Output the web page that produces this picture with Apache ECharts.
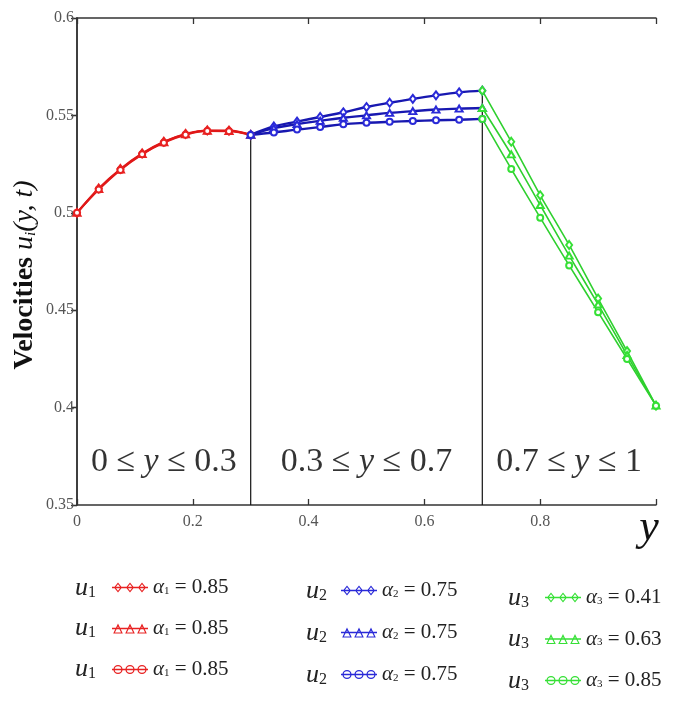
<!DOCTYPE html>
<html><head><meta charset="utf-8">
<script src="https://cdn.jsdelivr.net/npm/echarts@6/dist/echarts.min.js"></script>
<style>html,body{margin:0;padding:0;background:#fff}#c{width:685px;height:704px}</style>
</head><body><div id="c"></div>
<script>
// ---- data ----
const regions = [[0, 0.3], [0.3, 0.7], [0.7, 1]];
const regionText = [['0 ≤ ', ' ≤ 0.3'], ['0.3 ≤ ', ' ≤ 0.7'], ['0.7 ≤ ', ' ≤ 1']];

const x1 = [0, 0.0375, 0.075, 0.1125, 0.15, 0.1875, 0.225, 0.2625, 0.3];
const u1a = [0.5, 0.5125, 0.5225, 0.5305, 0.5365, 0.5405, 0.5423, 0.5422, 0.540];
const u1b = [0.5, 0.5122, 0.5222, 0.5302, 0.5362, 0.5403, 0.5421, 0.5420, 0.540];
const u1c = [0.5, 0.5119, 0.5220, 0.5300, 0.5360, 0.5401, 0.5420, 0.5419, 0.540];

const x2 = [0.30, 0.34, 0.38, 0.42, 0.46, 0.50, 0.54, 0.58, 0.62, 0.66, 0.70];
const u2a = [0.540, 0.5443, 0.5468, 0.5492, 0.5516, 0.5543, 0.5565, 0.5585, 0.5603, 0.5618, 0.5627];
const u2b = [0.540, 0.5435, 0.5455, 0.5472, 0.5488, 0.5500, 0.5513, 0.5522, 0.5530, 0.5535, 0.5538];
const u2c = [0.540, 0.5412, 0.5427, 0.5440, 0.5455, 0.5462, 0.5467, 0.5471, 0.5475, 0.5478, 0.5482];

const x3 = [0.70, 0.75, 0.80, 0.85, 0.90, 0.95, 1.0];
const u3a = [0.5627, 0.5365, 0.5090, 0.4835, 0.4560, 0.4290, 0.4010];
const u3b = [0.5538, 0.5300, 0.5040, 0.4780, 0.4530, 0.4270, 0.4010];
const u3c = [0.5482, 0.5225, 0.4975, 0.4730, 0.4490, 0.4250, 0.4010];

const alphas = [[0.85, 0.85, 0.85], [0.75, 0.75, 0.75], [0.41, 0.63, 0.85]];
const xTickLabels = ['0', '0.2', '0.4', '0.6', '0.8'];

// ---- build ----
const groups = [
  {x: x1, ys: [u1a, u1b, u1c], color: '#e82222', line: '#e01818', w: 2},
  {x: x2, ys: [u2a, u2b, u2c], color: '#2a2ad8', line: '#1818b0', w: 2.4},
  {x: x3, ys: [u3a, u3b, u3c], color: '#36e036', line: '#2fd02f', w: 1.6}
];
const symbols = ['emptyDiamond', 'emptyTriangle', 'emptyCircle'];
const symSizes = [[6, 8], [7, 6], [6, 6]];

function ringIcon(kind) {
  let p = 'M0 5.2 L36 5.2 L36 6.8 L0 6.8 Z ';
  [6, 18, 30].forEach(c => {
    if (kind === 0) {
      p += `M${c} 1 L${c + 4} 6 L${c} 11 L${c - 4} 6 Z M${c} 2.7 L${c - 2.6} 6 L${c} 9.3 L${c + 2.6} 6 Z `;
    } else if (kind === 1) {
      p += `M${c} 1 L${c + 4.8} 11 L${c - 4.8} 11 Z M${c} 3.9 L${c - 3.1} 9.9 L${c + 3.1} 9.9 Z `;
    } else {
      p += `M${c - 4.6} 6 A4.6 4.6 0 1 1 ${c + 4.6} 6 A4.6 4.6 0 1 1 ${c - 4.6} 6 Z M${c - 3.3} 6 A3.3 3.3 0 1 0 ${c + 3.3} 6 A3.3 3.3 0 1 0 ${c - 3.3} 6 Z `;
    }
  });
  return 'path://' + p;
}

const series = [];
const legendData = [[], [], []];
const legendText = {};
groups.forEach((g, gi) => {
  g.ys.forEach((ys, k) => {
    const name = 'u' + (gi + 1) + '_' + (k + 1);
    series.push({
      name, type: 'line', smooth: gi < 2 ? 0.4 : 0.2,
      data: g.x.map((xv, i) => [xv, ys[i]]),
      symbol: symbols[k], symbolSize: symSizes[k], showSymbol: true,
      lineStyle: {color: g.line, width: g.w},
      itemStyle: {color: g.color, borderWidth: 1},
      z: 3, animation: false
    });
    legendData[gi].push({name, icon: ringIcon(k)});
    legendText[name] = '{a|α}{s|' + (gi + 1) + '}{t| = ' + alphas[gi][k].toFixed(2) + '}';
  });
});

// vertical separators from region boundaries up to curve values
const sepTops = [u1a[u1a.length - 1], u2a[u2a.length - 1]];
[regions[0][1], regions[1][1]].forEach((bx, i) => {
  series.push({
    type: 'line', silent: true, symbol: 'none', z: 2, animation: false,
    data: [[bx, 0.35], [bx, sepTops[i]]],
    lineStyle: {color: '#111', width: 1.2}
  });
});

// region labels
series.push({
  type: 'scatter', symbolSize: 0, silent: true, animation: false,
  data: regions.map(r => [(r[0] + r[1]) / 2, 0.372]),
  label: {
    show: true, position: 'inside',
    formatter: p => '{n|' + regionText[p.dataIndex][0] + '}{i|y}{n|' + regionText[p.dataIndex][1] + '}',
    rich: {
      n: {fontFamily: 'Liberation Serif', fontSize: 34, color: '#000'},
      i: {fontFamily: 'Liberation Serif', fontStyle: 'italic', fontSize: 34, color: '#000'}
    }
  }
});

const legendRich = {
  a: {fontFamily: 'Liberation Serif', fontStyle: 'italic', fontSize: 21, color: '#222', lineHeight: 18},
  s: {fontFamily: 'Liberation Serif', fontSize: 11, color: '#222', verticalAlign: 'bottom', padding: [6, 0, 0, 0], lineHeight: 18},
  t: {fontFamily: 'Liberation Serif', fontSize: 21, color: '#222', lineHeight: 18}
};
const legendPos = [[112, 577, 20], [341, 580, 21], [545, 587, 20.5]];
const legends = legendPos.map((lp, i) => ({
  type: 'plain',
  data: legendData[i], orient: 'vertical', left: lp[0], top: lp[1], itemGap: lp[2],
  itemWidth: 36, itemHeight: 12, itemStyle: {borderWidth: 0},
  selectedMode: false, padding: 0,
  formatter: n => legendText[n],
  textStyle: {rich: legendRich, lineHeight: 18}
}));

const uLabelPos = [[75, [588, 628, 669]], [306, [591, 633, 675]], [508, [598, 639, 681]]];
const graphics = [];
uLabelPos.forEach((up, gi) => {
  up[1].forEach(yy => {
    graphics.push({
      type: 'text', x: up[0], y: yy,
      style: {
        text: '{u|u}{s|' + (gi + 1) + '}',
        rich: {
          u: {fontFamily: 'Liberation Serif', fontStyle: 'italic', fontSize: 26, fill: '#222'},
          s: {fontFamily: 'Liberation Serif', fontSize: 16, fill: '#222', verticalAlign: 'bottom', padding: [10, 0, 0, 0]}
        },
        align: 'left', verticalAlign: 'middle'
      }
    });
  });
});
graphics.push({
  type: 'text', x: 25, y: 275, rotation: Math.PI / 2,
  style: {
    text: '{b|Velocities }{m|u}{s|i}{m|(y, t)}',
    rich: {
      b: {fontFamily: 'Liberation Serif', fontWeight: 'bold', fontSize: 28, fill: '#111'},
      m: {fontFamily: 'Liberation Serif', fontStyle: 'italic', fontSize: 28, fill: '#111'},
      s: {fontFamily: 'Liberation Serif', fontStyle: 'italic', fontSize: 15, fill: '#111', verticalAlign: 'bottom', padding: [8, 0, 0, 0]}
    },
    align: 'center', verticalAlign: 'middle'
  }
});
graphics.push({
  type: 'text', x: 649, y: 528,
  style: {text: 'y', fontFamily: 'Liberation Serif', fontStyle: 'italic', fontSize: 44, fill: '#111', align: 'center', verticalAlign: 'middle'}
});

const axLine = {show: true, lineStyle: {color: '#333', width: 1.5}};
const option = {
  backgroundColor: '#fff',
  animation: false,
  grid: {left: 77, right: 29, top: 18, bottom: 199, containLabel: false},
  xAxis: [
    {type: 'value', min: 0, max: 1, interval: 0.2, axisLine: axLine,
     axisTick: {show: true, inside: true, length: 6, lineStyle: {color: '#333', width: 1.3}},
     splitLine: {show: false},
     axisLabel: {fontFamily: 'Liberation Serif', fontSize: 16, color: '#555', margin: 9,
       formatter: (v, i) => xTickLabels[i] !== undefined ? xTickLabels[i] : ''}},
    {type: 'value', position: 'top', min: 0, max: 1, interval: 0.2, axisLine: axLine,
     axisTick: {show: true, inside: true, length: 6, lineStyle: {color: '#333', width: 1.3}},
     splitLine: {show: false}, axisLabel: {show: false}}
  ],
  yAxis: [
    {type: 'value', min: 0.35, max: 0.6, interval: 0.05, axisLine: axLine,
     axisTick: {show: true, inside: false, length: 5, lineStyle: {color: '#333', width: 1.3}},
     splitLine: {show: false},
     axisLabel: {fontFamily: 'Liberation Serif', fontSize: 16, color: '#555', margin: 3}},
    {type: 'value', position: 'right', min: 0.35, max: 0.6, interval: 0.05, axisLine: axLine,
     axisTick: {show: true, inside: true, length: 6, lineStyle: {color: '#333', width: 1.3}},
     splitLine: {show: false}, axisLabel: {show: false}}
  ],
  legend: legends,
  graphic: graphics,
  series
};
const chart = echarts.init(document.getElementById('c'), null, {renderer: 'canvas'});
chart.setOption(option);
</script></body></html>
